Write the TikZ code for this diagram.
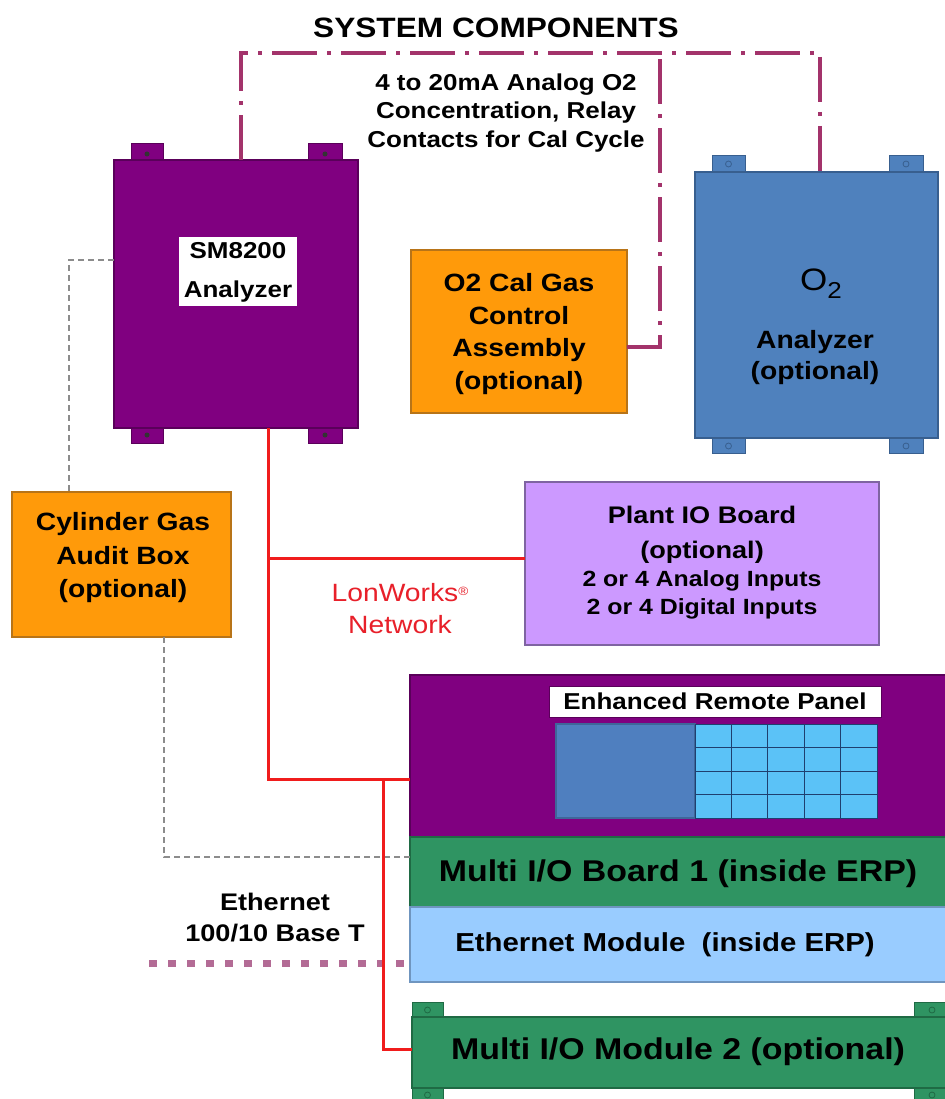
\documentclass[tikz,border=0pt]{standalone}
\usepackage{fontspec}
\setmainfont{Liberation Sans}[FakeStretch=1.13]
\definecolor{smP}{HTML}{800080}
\definecolor{smB}{HTML}{5A005A}
\definecolor{orC}{HTML}{FF9A0A}
\definecolor{orB}{HTML}{B87418}
\definecolor{bluO}{HTML}{4F81BD}
\definecolor{bluB}{HTML}{385F8F}
\definecolor{plC}{HTML}{CC99FF}
\definecolor{plB}{HTML}{7F64A2}
\definecolor{grM}{HTML}{2F9462}
\definecolor{grB}{HTML}{1F6A44}
\definecolor{ltB}{HTML}{99CCFF}
\definecolor{ltBB}{HTML}{6F95BF}
\definecolor{scrB}{HTML}{4F7FBF}
\definecolor{gridC}{HTML}{5BC2F7}
\definecolor{gridL}{HTML}{1F3F6F}
\definecolor{ddC}{HTML}{A3336B}
\definecolor{netR}{HTML}{F01C1C}
\definecolor{lonR}{HTML}{E8202A}
\definecolor{ethC}{HTML}{B36B95}
\definecolor{grayL}{HTML}{8C8C8C}
\newcommand\myfs[2]{\fontsize{#1}{#2}\selectfont}
\begin{document}
\begin{tikzpicture}[x=1pt,y=-1pt,
  box/.style={draw, line width=1.2pt, inner sep=0pt, outer sep=0pt},
  lbl/.style={align=center, inner sep=0pt, text=black},
  dashdot/.style={draw=ddC, line width=4pt, dash pattern=on 45pt off 10pt on 4pt off 10pt},
  graydash/.style={draw=grayL, line width=2pt, dash pattern=on 6pt off 4pt},
  ethdots/.style={draw=ethC, line width=7pt, dash pattern=on 8pt off 11pt},
  lonline/.style={draw=netR, line width=3pt},
  smtab/.style={fill=smP, draw=smB, line width=1pt},
  o2tab/.style={fill=bluO, draw=bluB, line width=1pt},
  mtab/.style={fill=grM, draw=grB, line width=1pt}]
\useasboundingbox (0,0) rectangle (944,1099);
\fill[white] (0,0) rectangle (944,1099);

% title
\node[lbl, font=\bfseries\myfs{28}{32}] (title) at (496,28) {SYSTEM COMPONENTS};

% SM8200 tabs
\foreach \xa/\xb in {131/163,308/342}{
  \draw[smtab] (\xa,144) rectangle (\xb,162);
  \draw[smtab] (\xa,426) rectangle (\xb,443);
  \fill[black!80] ({(\xa+\xb)/2},154) circle (2.5);
  \fill[black!80] ({(\xa+\xb)/2},435) circle (2.5);
}
\node[box, fill=smP, draw=smB, minimum width=244pt, minimum height=268pt] (sm) at (236,294) {};
\node[fill=white, inner sep=0pt, minimum width=118pt, minimum height=69pt] (smlbl) at (238,271.5) {};
\node[lbl, font=\bfseries\myfs{23}{39}] (smtxt) at (238,272) {SM8200\\Analyzer};

% O2 cal gas
\node[box, fill=orC, draw=orB, minimum width=216pt, minimum height=163pt] (cal) at (519,331.5) {};
\node[lbl, font=\bfseries\myfs{25}{32.5}] (caltxt) at (519,334) {O2 Cal Gas\\Control\\Assembly\\(optional)};

% O2 analyzer
\foreach \xa/\xb in {712/745,889/923}{
  \draw[o2tab] (\xa,156) rectangle (\xb,174);
  \draw[o2tab] (\xa,436) rectangle (\xb,453);
  \draw[bluB, line width=0.8pt] ({(\xa+\xb)/2},164) circle (3);
  \draw[bluB, line width=0.8pt] ({(\xa+\xb)/2},446) circle (3);
}
\node[box, fill=bluO, draw=bluB, minimum width=243pt, minimum height=266pt] (o2) at (816.5,305) {};
\node[lbl, font=\myfs{31}{31}] (o2sym) at (821,284) {O\raisebox{-8pt}{\myfs{23}{23}2}};
\node[lbl, font=\bfseries\myfs{25}{31}] (o2txt) at (815,358) {Analyzer\\(optional)};

% top label
\node[lbl, font=\bfseries\myfs{23}{28.5}] (siglbl) at (506,113) {4 to 20mA Analog O2\\Concentration, Relay\\Contacts for Cal Cycle};

% Cylinder gas audit box
\node[box, fill=orC, draw=orB, minimum width=219pt, minimum height=145pt] (cyl) at (121.5,564.5) {};
\node[lbl, font=\bfseries\myfs{25}{33.5}] (cyltxt) at (123,558) {Cylinder Gas\\Audit Box\\(optional)};

% Plant IO board
\node[box, fill=plC, draw=plB, minimum width=354pt, minimum height=163pt] (plant) at (702,563.5) {};
\node[lbl, font=\bfseries\myfs{24}{35}] (planttxt1) at (702,535) {Plant IO Board\\(optional)};
\node[lbl, font=\bfseries\myfs{22}{28}] (planttxt2) at (702,594.5) {2 or 4 Analog Inputs\\2 or 4 Digital Inputs};

% Enhanced remote panel
\node[box, fill=smP, draw=smB, minimum width=540pt, minimum height=162pt] (erp) at (680,756) {};
\node[fill=white, draw=smB, line width=0.6pt, inner sep=0pt, minimum width=332pt, minimum height=31pt,
      font=\bfseries\myfs{23}{23}] (erplbl) at (715,701.5) {Enhanced Remote Panel};
\node[box, fill=scrB, draw=scrB!80!black, minimum width=139pt, minimum height=94pt] (screen) at (625.5,771) {};
\node[box, fill=gridC, draw=gridL, line width=1pt, minimum width=182pt, minimum height=94pt] (keys) at (786,771) {};
\foreach \gx in {731.4,767.8,804.2,840.6}{\draw[gridL, line width=1pt] (\gx,724) -- (\gx,818);}
\foreach \gy in {747.5,771,794.5}{\draw[gridL, line width=1pt] (695,\gy) -- (877,\gy);}

% Multi I/O board 1
\node[box, fill=grM, draw=grB, minimum width=540pt, minimum height=70pt] (mio1) at (680,872) {};
\node[lbl, font=\bfseries\myfs{30}{30}] (mio1txt) at (678,874) {Multi I/O Board 1 (inside ERP)};

% Ethernet module
\node[box, fill=ltB, draw=ltBB, minimum width=540pt, minimum height=75pt] (ethm) at (680,944.5) {};
\node[lbl, font=\bfseries\myfs{26}{26}] (ethmtxt) at (665,945) {Ethernet Module\ \ (inside ERP)};

% Multi I/O module 2
\foreach \xa/\xb in {412/443,914/950}{
  \draw[mtab] (\xa,1002) rectangle (\xb,1019);
  \draw[mtab] (\xa,1086) rectangle (\xb,1104);
  \draw[grB, line width=0.8pt] ({(\xa+\xb)/2},1010) circle (3);
  \draw[grB, line width=0.8pt] ({(\xa+\xb)/2},1095) circle (3);
}
\node[box, fill=grM, draw=grB, minimum width=538pt, minimum height=71pt] (mio2) at (681,1052.5) {};
\node[lbl, font=\bfseries\myfs{30}{30}] (mio2txt) at (678,1052) {Multi I/O Module 2 (optional)};

% ethernet label
\node[lbl, font=\bfseries\myfs{24}{31}] (ethlbl) at (275,918) {Ethernet\\100/10 Base T};

% LonWorks label
\node[lbl, text=lonR, font=\myfs{25}{32}] (lonlbl) at (400,609) {LonWorks\raisebox{6pt}{\myfs{12}{12}®}\\Network};

% coordinates
\coordinate (tl) at (241,53);
\coordinate (tm) at (660,53);
\coordinate (tr) at (820,53);
\coordinate (j1) at (268,558);
\coordinate (j2) at (383,779);
\coordinate (ethend) at (149,963);

% dash-dot signal line
\draw[dashdot] ([xshift=5pt]sm.north) -- (tl) -- (tr) -- (tr |- o2.north);
\draw[dashdot] ([yshift=-15.5pt]cal.east) -| (tm);

% gray dashed lines
\draw[graydash] ([yshift=34pt]sm.west) -| ([xshift=-52.5pt]cyl.north);
\draw[graydash] ([xshift=42.5pt]cyl.south) |- ([yshift=15pt]mio1.west);

% ethernet dotted
\draw[ethdots] (ethend) -- (ethend -| ethm.west);

% LonWorks network
\draw[lonline] ([xshift=32pt]sm.south) |- ([yshift=-23pt]erp.west);
\draw[lonline] (j1) -- (j1 -| plant.west);
\draw[lonline] (j2) |- ([yshift=3.5pt]mio2.west);
\end{tikzpicture}
\end{document}
